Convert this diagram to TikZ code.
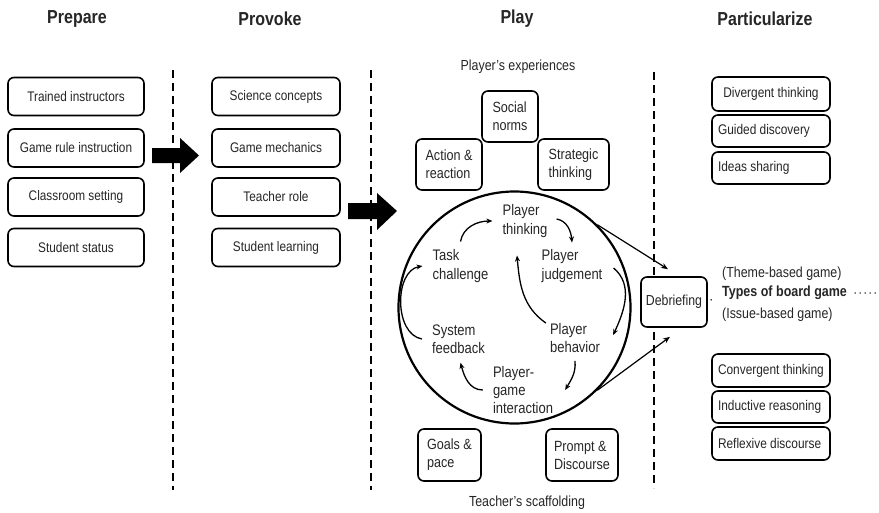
\documentclass[tikz,border=0pt]{standalone}
\usepackage{fontspec}
\setmainfont[FakeStretch=0.85]{Liberation Sans}
\usetikzlibrary{arrows.meta}
% left-set text inside a fixed-width box line
\newcommand\lbx[1]{\makebox[106pt][l]{#1}}
\begin{document}
\begin{tikzpicture}[x=1pt,y=-1pt,
  every node/.style={text=black!85, inner sep=0pt},
  box/.style={draw=black, line width=1.6pt, rounded corners=6pt, fill=white, align=left},
  sbox/.style={box, font=\fontsize{13.9}{16}\selectfont},
  pbox/.style={box, font=\fontsize{14.8}{18}\selectfont},
  rbox/.style={box, font=\fontsize{14}{16}\selectfont, minimum width=118pt},
  head/.style={font=\bfseries\fontsize{18.8}{21}\selectfont},
  note/.style={font=\fontsize{14.6}{17}\selectfont},
  inner/.style={align=left, font=\fontsize{15.3}{18.3}\selectfont},
  sep/.style={line width=1.8pt, dash pattern=on 8pt off 5pt},
  flow/.style={line width=1.3pt, -{Stealth[length=6pt,width=5pt]}},
  link/.style={line width=1.2pt, -{Stealth[length=7pt,width=5.5pt]}},
  dotline/.style={line width=1.6pt, line cap=round, dash pattern=on 0pt off 5pt},
  bigarrow/.style={fill=black}
]
\useasboundingbox (0,0) rectangle (879,512);
\fill[white] (0,0) rectangle (879,512);

% stage headings
\node[head] (hprep) at (77,19) {Prepare};
\node[head] (hprov) at (270,19) {Provoke};
\node[head] (hplay) at (517,19) {Play};
\node[head] (hpart) at (765,19) {Particularize};

% dashed stage separators
\coordinate (s1t) at (173,70);  \coordinate (s1b) at (173,490);
\coordinate (s2t) at (371,70);  \coordinate (s2b) at (371,490);
\coordinate (s3t) at (654,72);  \coordinate (s3b) at (654,488);
\draw[sep] (s1t) -- (s1b);
\draw[sep] (s2t) -- (s2b);
\draw[sep] (s3t) -- (s3b);

% Prepare
\node[sbox, align=center, minimum width=136pt, minimum height=38pt] (p1) at (76,96.5) {Trained instructors};
\node[sbox, align=center, minimum width=136pt, minimum height=38pt] (p2) at (76,148) {Game rule instruction};
\node[sbox, align=center, minimum width=136pt, minimum height=38pt] (p3) at (76,197) {Classroom setting};
\node[sbox, align=center, minimum width=136pt, minimum height=38pt] (p4) at (76,247.5) {Student status};

% Provoke
\node[sbox, align=center, minimum width=128pt, minimum height=38pt] (v1) at (276,96.5) {Science concepts};
\node[sbox, align=center, minimum width=128pt, minimum height=38pt] (v2) at (276,148) {Game mechanics};
\node[sbox, align=center, minimum width=128pt, minimum height=38pt] (v3) at (276,197) {Teacher role};
\node[sbox, align=center, minimum width=128pt, minimum height=38pt] (v4) at (276,247.5) {Student learning};

% stage transition arrows
\fill[bigarrow] (152,148) -- (180,148) -- (180,138) -- (199,155.5) -- (180,173) -- (180,163) -- (152,163) -- cycle;
\fill[bigarrow] (348,203) -- (377,203) -- (377,193) -- (397,211) -- (377,230) -- (377,219) -- (348,219) -- cycle;

% Play: player's experiences
\node[note] (exp) at (518,67) {Player’s experiences};
\node[pbox, minimum width=56pt, minimum height=51pt] (social) at (510,116.5) {Social\\norms};
\node[pbox, minimum width=66pt, minimum height=51pt] (action) at (449,164.5) {Action \&\\reaction};
\node[pbox, minimum width=71pt, minimum height=51pt] (strat) at (573.5,164.5) {Strategic\\thinking};

% Play: game loop
\node[draw=black, circle, line width=2.2pt, minimum size=232pt] (loop) at (514.5,307.5) {};
\node[inner] (pthink) at (525,221) {Player\\thinking};
\node[inner] (task) at (460.5,266) {Task\\challenge};
\node[inner] (judge) at (572,266) {Player\\judgement};
\node[inner] (sysfb) at (458.5,339) {System\\feedback};
\node[inner] (behav) at (575,338) {Player\\behavior};
\node[inner] (pgi) at (523,390) {Player-\\game\\interaction};

\draw[flow] ([yshift=8pt]task.north) to[out=80,in=180] ([xshift=-10pt]pthink.west);
\draw[flow] ([xshift=9pt,yshift=2pt]pthink.east) to[out=-10,in=95] ([yshift=7pt]judge.north);
\draw[flow] ([xshift=11pt,yshift=-2pt]judge.east) to[out=-40,in=65] ([xshift=13pt,yshift=3pt]behav.east);
\draw[flow] ([yshift=-8pt]behav.south) to[out=-85,in=60] ([xshift=12pt]pgi.east);
\draw[flow] ([xshift=-10pt]pgi.west) to[out=180,in=-75] ([xshift=2pt,yshift=-9pt]sysfb.south);
\draw[flow] ([xshift=-10pt]sysfb.west) to[out=170,in=190] ([xshift=-10pt]task.west);
\draw[flow] ([xshift=-4pt]behav.north west) to[out=145,in=-85] ([xshift=-8pt,yshift=-18pt]pthink.south);

% Play: teacher's scaffolding
\node[pbox, minimum width=63pt, minimum height=52pt] (goals) at (449.5,455) {Goals \&\\pace};
\node[pbox, minimum width=72pt, minimum height=52pt] (prompt) at (582,455) {Prompt \&\\Discourse};
\node[note] (scaf) at (527,503) {Teacher’s scaffolding};

% Debriefing
\node[box, align=center, font=\fontsize{14.5}{17}\selectfont, minimum width=66pt, minimum height=50pt] (deb) at (674,302) {Debriefing};
\draw[link] (loop.45) -- ([xshift=-6pt,yshift=7pt]deb.north);
\draw[link] (loop.-45) -- ([xshift=-4pt,yshift=-9pt]deb.south);

% types of board game
\node[note, anchor=west] (theme) at (722,274) {(Theme-based game)};
\node[anchor=west, font=\bfseries\fontsize{14.7}{17}\selectfont] (types) at (722,293) {Types of board game};
\node[note, anchor=west] (issue) at (722,315) {(Issue-based game)};
\coordinate (tail) at (879,293);
\draw[dotline, dash pattern=on 0pt off 30pt, shorten <=4pt, shorten >=8pt] (deb.east) -- (types.west);
\draw[dotline, shorten <=8pt] (types.east) -- (tail);

% Particularize
\node[rbox, align=center, minimum height=34pt] (d1) at (771,94) {Divergent thinking};
\node[rbox, minimum height=32pt] (d2) at (771,131) {\lbx{Guided discovery}};
\node[rbox, minimum height=32pt] (d3) at (771,168) {\lbx{Ideas sharing}};
\node[rbox, minimum height=33pt] (c1) at (771,370.5) {\lbx{Convergent thinking}};
\node[rbox, minimum height=32pt] (c2) at (771,407) {\lbx{Inductive reasoning}};
\node[rbox, minimum height=33pt] (c3) at (771,443.5) {\lbx{Reflexive discourse}};
\end{tikzpicture}
\end{document}
